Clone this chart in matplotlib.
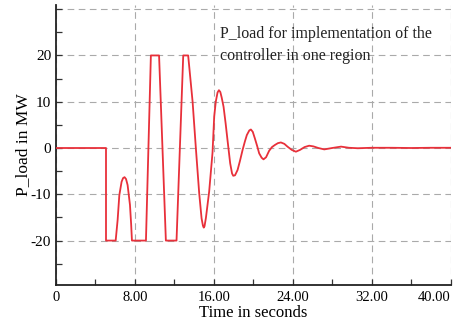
import matplotlib
matplotlib.use("Agg")
import matplotlib.pyplot as plt
from matplotlib.ticker import FixedLocator

# Data
time_s = [0.0, 5.07, 5.07, 6.05, 6.25, 6.42, 6.65, 6.8, 6.95, 7.1, 7.26, 7.5, 7.62, 7.7,
          9.12, 9.62, 10.45, 11.14, 12.22, 12.9, 13.4,
          13.85, 14.18, 14.52, 14.76, 14.9, 14.98, 15.06, 15.2, 15.53, 15.87,
          16.04, 16.2, 16.38, 16.52, 16.66, 16.8, 16.99, 17.2, 17.39, 17.66, 17.85, 17.97, 18.15, 18.41, 18.65, 18.92,
          19.15, 19.35, 19.6, 19.76, 19.95, 20.16, 20.4, 20.6, 20.85, 21.04, 21.3, 21.61, 21.9, 22.19, 22.5, 22.8,
          23.15, 23.47, 23.9, 24.32, 24.75, 25.2, 25.67, 26.1, 26.6, 27.2, 28.0, 28.9, 29.7, 30.6,
          32.0, 34.0, 36.0, 38.0, 40.0]
p_load_mw = [0.0, 0.0, -20.0, -20.0, -15.5, -10.2, -7.3, -6.5, -6.3, -6.7, -8.0, -12.3, -16.5, -20.0,
             -20.0, 20.0, 20.0, -20.0, -20.0, 20.0, 20.0,
             10.0, 0.0, -9.8, -15.2, -16.8, -17.2, -16.9, -15.1, -9.4, -1.0,
             6.8, 10.0, 12.0, 12.5, 12.1, 10.9, 8.9, 5.3, 1.7, -3.3, -5.5, -6.0, -5.9, -4.75, -2.8, -0.4,
             1.4, 2.8, 3.8, 4.0, 3.5, 2.1, 0.4, -1.15, -2.1, -2.45, -2.0, -0.6, 0.2, 0.65, 1.05, 1.2,
             0.9, 0.3, -0.4, -0.8, -0.4, 0.2, 0.5, 0.35, 0.0, -0.3, 0.0, 0.3, 0.05, -0.05,
             0.05, 0.05, 0.0, 0.05, 0.05]

x_major = [0, 8, 16, 24, 32, 40]
x_labels = ["0", "8.00", "16.00", "24.00", "32.00", "40.00"]
x_minor = [4, 12, 20, 28, 36]
y_major = [-20, -10, 0, 10, 20, 30]
y_labels = ["-20", "-10", "0", "10", "20", ""]
y_minor = [-25, -15, -5, 5, 15, 25]

plt.rcParams['font.family'] = ['Liberation Serif', 'DejaVu Serif']

fig = plt.figure(figsize=(4.65, 3.21), dpi=100)
ax = fig.add_axes([56/465, 1-285/321, (451-56)/465, (285-5)/321])

ax.plot(time_s, p_load_mw, color='#e8303a', lw=1.3, zorder=3)

ax.set_xlim(0, 40.05)
ax.set_ylim(-29.6, 30.9)

ax.xaxis.set_major_locator(FixedLocator(x_major))
ax.set_xticklabels(x_labels)
ax.xaxis.set_minor_locator(FixedLocator(x_minor))
ax.yaxis.set_major_locator(FixedLocator(y_major))
ax.set_yticklabels(y_labels)
ax.yaxis.set_minor_locator(FixedLocator(y_minor))

ax.tick_params(which='both', direction='in', length=4, width=0.9, labelsize=10.5, color='#333333')
ax.tick_params(axis='x', pad=4)
ax.tick_params(axis='y', labelsize=11)
ax.get_xticklabels()[-1].set_horizontalalignment('right')
ax.get_xticklabels()[-1].set_x(40.3)

ax.grid(True, which='major', color='#aaaaaa', linestyle=(0, (6, 4)), lw=0.8)
for sp in ['top', 'right']:
    ax.spines[sp].set_visible(False)
for sp in ['left', 'bottom']:
    ax.spines[sp].set_linewidth(1.3)
    ax.spines[sp].set_color('#222222')

ax.set_xlabel("Time in seconds", fontsize=12, labelpad=1)
ax.set_ylabel("P_load in MW", fontsize=12.5, labelpad=0)

ax.text(220/465, 1-45/321, "P_load for implementation of the\ncontroller in one region",
        transform=fig.transFigure, fontsize=11.5, va='center', ha='left',
        linespacing=1.45, color='#222222')

fig.savefig("out.png", dpi=100)
